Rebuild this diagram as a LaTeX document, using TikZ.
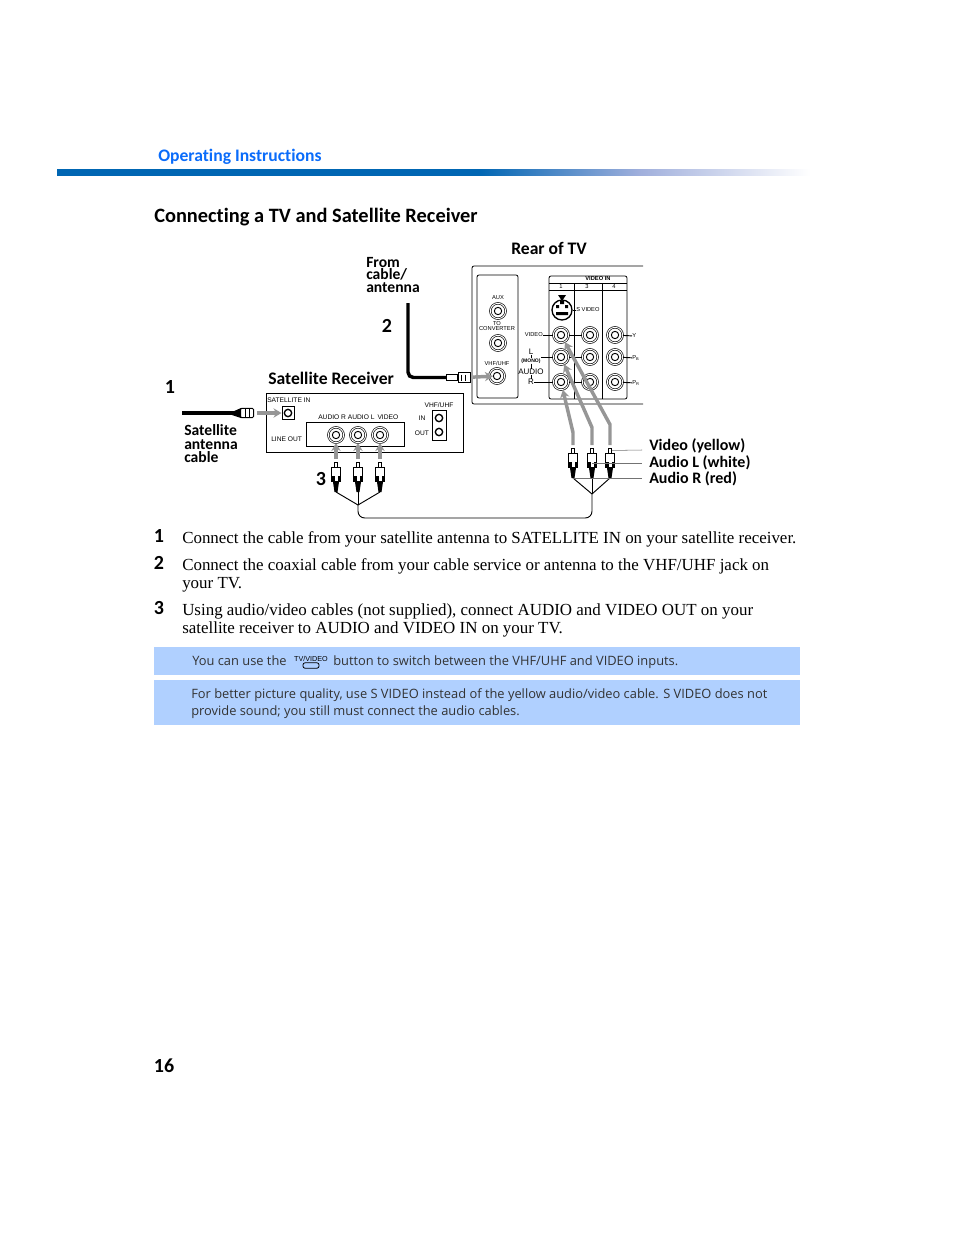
\documentclass[tikz,border=0pt]{standalone}
\usepackage{fontspec}
\setmainfont{Liberation Serif}
\newfontfamily\headfont[Ligatures=NoCommon]{Carlito}
\newfontfamily\notefont{Open Sans}
\newfontfamily\tinyfont{Liberation Sans}
\usetikzlibrary{positioning, arrows.meta}

\definecolor{barblue}{RGB}{0,102,179}
\definecolor{barmid}{RGB}{160,175,220}
\definecolor{headblue}{RGB}{10,108,250}
\definecolor{noteblue}{RGB}{176,208,255}
\definecolor{arrowgray}{RGB}{150,150,150}
\pgfdeclarehorizontalshading{barfade}{100bp}{color(0bp)=(barblue); color(53bp)=(barblue); color(63.7bp)=(barmid); color(75bp)=(white); color(100bp)=(white)}

% one round jack: outer ring and core
\newcommand{\jackat}[3]{
    \node[jack] (#1) at (#2,#3) {};
    \node[jackcore] (#1c) at (#1) {};
}
% one RCA plug, #3 is the top of its tip
\newcommand{\rcaplug}[3]{
    \fill (#2-3,#3+20) -- (#2+3,#3+20) -- (#2+1.5,#3+30) -- (#2-1.5,#3+30) -- cycle;
    \node[plugbody] (#1b) at (#2,#3+12.5) {};
    \node[plugtip] (#1) at (#2,#3+2.5) {};
    \fill (#2-4.5,#3+14) rectangle (#2-1.5,#3+20);
    \fill (#2+1.5,#3+14) rectangle (#2+4.5,#3+20);
    \coordinate (#1t) at (#2,#3+30);
}

\begin{document}
\begin{tikzpicture}[
    x=0.75pt, y=-0.75pt,
    % Text styles
    base/.style={inner sep=0pt, anchor=base west},
    heading/.style={base, font=\headfont\bfseries\fontsize{15.3}{16}\selectfont},
    label/.style={base, align=left, font=\headfont\bfseries\fontsize{11.7}{9.6}\selectfont},
    callout/.style={base, font=\headfont\bfseries\fontsize{13.2}{13}\selectfont},
    plugname/.style={base, font=\headfont\bfseries\fontsize{12}{12}\selectfont},
    stepnum/.style={inner sep=0pt, font=\headfont\bfseries\fontsize{15}{15}\selectfont},
    body/.style={base, font=\fontsize{12.7}{14}\selectfont},
    note/.style={base, text=black!80, font=\notefont\fontsize{9.65}{12}\selectfont},
    tiny/.style={inner sep=0pt, align=center, font=\tinyfont\fontsize{4.3}{4.6}\selectfont},
    midtiny/.style={tiny, font=\tinyfont\fontsize{6}{6}\selectfont},
    rectiny/.style={tiny, font=\tinyfont\fontsize{5}{5}\selectfont},
    % Hardware styles
    panel/.style={draw, line width=0.6pt, rounded corners=1.5pt},
    jack/.style={draw, circle, fill=white, line width=0.5pt, double, double distance=0.7pt, inner sep=0pt, minimum size=11.5pt},
    jackcore/.style={draw, circle, line width=0.7pt, inner sep=0pt, minimum size=5.5pt},
    smalljack/.style={draw, circle, line width=1pt, inner sep=0pt, minimum size=5.5pt},
    plugtip/.style={draw, fill=white, line width=0.5pt, inner sep=0pt, minimum width=2.5pt, minimum height=3.5pt},
    plugbody/.style={draw, fill=white, line width=0.6pt, inner sep=0pt, minimum width=6.5pt, minimum height=11pt},
    % Connector styles
    wire/.style={line width=0.7pt},
    cable/.style={line width=2.6pt},
    leader/.style={line width=0.4pt, draw=black!55},
    feed/.style={line width=2.6pt, draw=arrowgray, shorten <=2pt, -{Stealth[length=6pt, width=7pt]}}
]
    \useasboundingbox (0,0) rectangle (954,1235);

    % --- PAGE HEADER ---
    \node[base, text=headblue, font=\headfont\bfseries\fontsize{13.2}{13}\selectfont] (section) at (158,161) {Operating Instructions};
    \shade[shading=barfade] (57,169) rectangle (810,175);
    \node[heading] (title) at (154,222) {Connecting a TV and Satellite Receiver};

    % --- REAR OF TV ---
    \node[callout] (tvname) at (511,254) {Rear of TV};
    \coordinate (tvtop) at (643,266);
    \coordinate (tvbot) at (643,404);
    \draw[panel] (tvtop) -- (472,266) -- (472,404) -- (tvbot);
    \draw[panel] (477,275) rectangle (518,398);
    \draw[panel] (549,276) rectangle (627,399);
    \draw[wire] (549,283) -- (627,283);
    \draw[line width=0.3pt] (549,290) -- (627,290);
    \draw[wire] (574,283) -- (574,399);
    \draw[wire] (602,283) -- (602,399);

    % Input jacks
    \foreach \nm/\x/\y in {aux/498/311, conv/498/343, vhf/497/376,
        vid1/561/335, aud1/561/357, r1/561/382,
        vid2/590/335, aud2/590/357, r2/590/382,
        y3/615/335, pb3/615/357, pr3/615/382} {
        \jackat{\nm}{\x}{\y}
    }
    \node[draw, circle, line width=1pt, fill=white, minimum size=15pt, inner sep=0pt] (svideo) at (562,310) {};
    \fill (556,305) rectangle (559,308) (565,305) rectangle (568,308) (556,312) rectangle (568,315) (560,301) rectangle (564,304);

    % Jack links
    \draw[wire] (vid1) -- (vid2);
    \draw[wire] (aud1) -- (aud2);
    \draw[wire] (r1) -- (r2);

    % Jack labels
    \node[tiny] (auxname) at (498,298) {AUX};
    \node[tiny] (convname) at (497,326) {TO\\[-0.5pt]CONVERTER};
    \node[tiny] (vhfname) at (497,363) {VHF/UHF};
    \node[tiny] (videoin) at (598,279) {\bfseries VIDEO IN};
    \node[tiny] (one) at (561,287) {1};
    \node[tiny] (three) at (587,287) {3};
    \node[tiny] (four) at (614,287) {4};
    \fill (558,295) -- (566,295) -- (562,301) -- cycle;
    \node[tiny, anchor=west] (svname) at (576,310) {S VIDEO};
    \node[tiny, anchor=east] (vidname) at (543,335) {VIDEO};
    \node[midtiny] (lname) at (531,352) {L};
    \node[tiny, font=\tinyfont\bfseries\fontsize{3.8}{4}\selectfont] (mono) at (531,361) {(MONO)};
    \node[midtiny] (audname) at (531,372) {AUDIO};
    \node[midtiny] (rname) at (531,382) {R};
    \node[tiny, anchor=west] (yname) at (632,336) {Y};
    \node[tiny, anchor=west] (pbname) at (632,358) {P\textsubscript{B}};
    \node[tiny, anchor=west] (prname) at (632,383) {P\textsubscript{R}};
    \coordinate (lstart) at (541,357);
    \draw[wire] (vidname) -- (vid1);
    \draw[wire] (svname) -- (svideo);
    \draw[wire] (lstart) -- (aud1);
    \draw[wire] (rname.east) -- (r1);
    \draw[wire] (lname) -- (mono);
    \draw[wire] (mono) -- (audname);
    \draw[wire] (audname) -- (rname);
    \draw[wire] (y3) -- (yname);
    \draw[wire] (pb3) -- (pbname);
    \draw[wire] (pr3) -- (prname);

    % --- SATELLITE RECEIVER ---
    \node[callout] (recname) at (268,384) {Satellite Receiver};
    \draw[line width=0.6pt] (266,393) rectangle (463,452);
    \draw[line width=0.7pt] (306,422) rectangle (404,446);
    \draw[line width=0.6pt] (432,410) rectangle (446,440);
    \node[draw, line width=0.7pt, inner sep=0pt, minimum width=9pt, minimum height=10pt] (satbox) at (288,413) {};
    \node[smalljack] (satin) at (288,413) {};
    \node[smalljack] (vhfin) at (439,418) {};
    \node[smalljack] (vhfout) at (439,432) {};
    \foreach \nm/\x in {audr/336, audl/358, vidout/380} {
        \jackat{\nm}{\x}{435}
    }
    \node[rectiny, anchor=west] (satname) at (267,400.5) {SATELLITE IN};
    \node[rectiny, anchor=west] (audioname) at (318,417.5) {AUDIO R AUDIO L\, VIDEO};
    \node[rectiny, anchor=west] (lineout) at (271,439) {LINE OUT};
    \node[rectiny] (vhfuhf) at (439,405.5) {VHF/UHF};
    \node[rectiny] (inname) at (422,418.5) {IN};
    \node[rectiny] (outname) at (422,433) {OUT};

    % --- CABLES ---
    % Satellite cable
    \coordinate (satend) at (182,413);
    \node[draw, fill=white, line width=0.7pt, inner sep=0pt, minimum width=10pt, minimum height=7pt, rounded corners=1pt] (satplug) at (247,413) {};
    \fill (232,412) -- (241,408) -- (241,418) -- (232,415) -- cycle;
    \draw[wire] (245,409) -- (245,417) (249,409) -- (249,417);
    \draw[cable] (satend) -- (satplug);
    \draw[feed] (satplug) -- (satbox);

    % Coax from the wall
    \coordinate (coaxend) at (408,303);
    \node[draw, fill=white, line width=0.7pt, inner sep=0pt, minimum width=8pt, minimum height=4.5pt] (coaxplug) at (452,377.5) {};
    \node[draw, fill=white, line width=0.7pt, inner sep=0pt, minimum width=9pt, minimum height=8pt] (coaxnut) at (464,377.5) {};
    \draw[wire] (461,374.5) -- (461,380.5) (465,374.5) -- (465,380.5);
    \draw[cable, rounded corners=4pt] (coaxend) |- (coaxplug);
    \draw[feed] (coaxnut) -- (vhfc);

    % Left plugs
    \rcaplug{plugr}{336}{462}
    \rcaplug{plugl}{358}{462}
    \rcaplug{plugv}{380}{462}
    \coordinate (forkl) at (358,505);
    \draw[wire] (plugrt) -- (forkl);
    \draw[wire] (plugvt) -- (forkl);
    \draw[wire] (pluglt) -- (forkl);
    \draw[feed] (plugr) -- (audr);
    \draw[feed] (plugl) -- (audl);
    \draw[feed] (plugv) -- (vidout);

    % Right plugs
    \rcaplug{rplugr}{573}{448}
    \rcaplug{rplugl}{592}{448}
    \rcaplug{rplugv}{610}{448}
    \coordinate (forkr) at (592,494);
    \draw[wire] (rplugrt) -- (forkr);
    \draw[wire] (rplugvt) -- (forkr);
    \draw[wire] (rpluglt) -- (forkr);
    \draw[wire, rounded corners=5pt] (forkr) -- ++(0,24) -| (forkl);
    \draw[feed] (rplugv) -- ++(0,-26) -- (vid1);
    \draw[feed] (rplugl) -- ++(0,-23) -- (aud1);
    \draw[feed] (rplugr) -- ++(0,-18) -- (r1);

    % Plug names
    \node[plugname] (vidplug) at (649,450) {Video (yellow)};
    \node[plugname] (audlplug) at (649,467) {Audio L (white)};
    \node[plugname] (audrplug) at (649,483) {Audio R (red)};
    \coordinate (leadv) at (642,450);
    \coordinate (leadl) at (642,463);
    \coordinate (leadr) at (642,478);
    \draw[leader] (rplugv) -- (leadv);
    \draw[leader] (rplugl |- leadl) -- (leadl);
    \draw[leader] (rplugr |- leadr) -- (leadr);

    % Loose labels
    \node[label] (fromname) at (366,267) {From};
    \node[label] (cablename) at (366,279) {cable/};
    \node[label] (antname) at (366,292) {antenna};
    \node[label] (satcable) at (184,435) {Satellite};
    \node[label] (satant) at (184,449) {antenna};
    \node[label] (satcab) at (184,462) {cable};
    \node[stepnum] (fig1) at (170,387.5) {1};
    \node[stepnum] (fig2) at (387,326) {2};
    \node[stepnum] (fig3) at (321,479.5) {3};

    % --- STEPS ---
    \node[stepnum] (step1) at (159,536) {1};
    \node[body] (text1) at (182,543.5) {Connect the cable from your satellite antenna to SATELLITE IN on your satellite receiver.};
    \node[stepnum] (step2) at (159,563) {2};
    \node[body] (text2a) at (182,570.5) {Connect the coaxial cable from your cable service or antenna to the VHF/UHF jack on};
    \node[body] (text2b) at (182,588.5) {your TV.};
    \node[stepnum] (step3) at (159,608) {3};
    \node[body] (text3a) at (182,615.5) {Using audio/video cables (not supplied), connect AUDIO and VIDEO OUT on your};
    \node[body] (text3b) at (182,633.5) {satellite receiver to AUDIO and VIDEO IN on your TV.};

    % --- NOTES ---
    \fill[noteblue] (154,647) rectangle (800,675);
    \fill[noteblue] (154,680) rectangle (800,725);
    \node[note] (note1a) at (192,665) {You can use the};
    \node[tiny, font=\tinyfont\fontsize{5.4}{5.4}\selectfont] (tvvideo) at (311,659) {TV/VIDEO};
    \node[draw, line width=0.6pt, rounded corners=1.5pt, inner sep=0pt, minimum width=12pt, minimum height=4pt] (tvbutton) at (311,665.5) {};
    \node[note] (note1b) at (333,665) {button to switch between the VHF/UHF and VIDEO inputs.};
    \node[note] (note2a) at (191,698) {For better picture quality, use S VIDEO instead of the yellow audio/video cable. S VIDEO does not};
    \node[note] (note2b) at (191,715) {provide sound; you still must connect the audio cables.};

    % --- PAGE NUMBER ---
    \node[stepnum] (pagenum) at (164,1066) {16};
\end{tikzpicture}
\end{document}
